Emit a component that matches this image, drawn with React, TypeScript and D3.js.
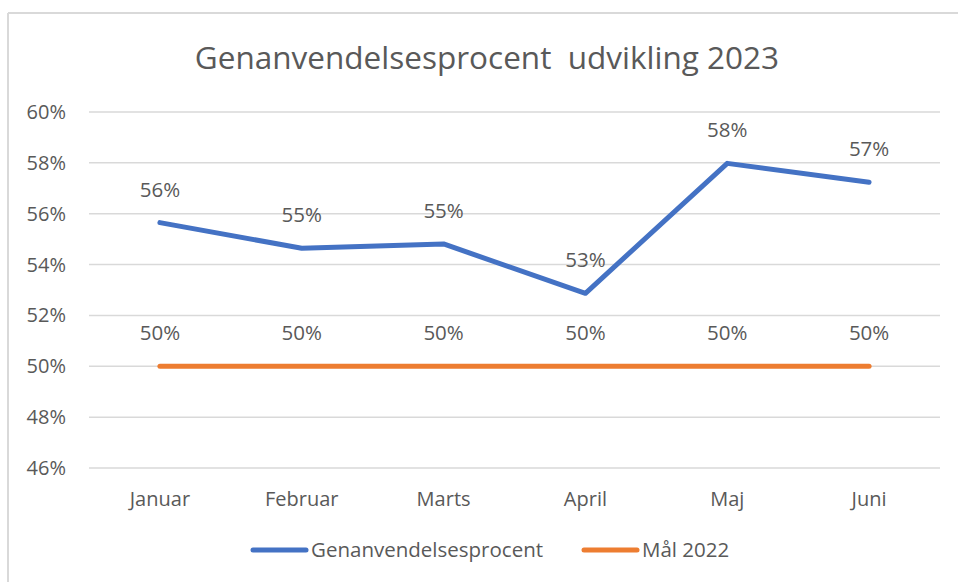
import React from "react";
import * as d3 from "d3";

const months = ["Januar", "Februar", "Marts", "April", "Maj", "Juni"];
const recyclingRate = [55.65, 54.64, 54.81, 52.87, 57.98, 57.24];
const target2022 = [50, 50, 50, 50, 50, 50];
const yTicks = [46, 48, 50, 52, 54, 56, 58, 60];
const title = "Genanvendelsesprocent  udvikling 2023";
const seriesNames = ["Genanvendelsesprocent", "Mål 2022"];
const seriesColors = ["#4472C4", "#ED7D31"];

const W = 958;
const H = 582;
const FONT = "'Open Sans', 'Noto Sans', sans-serif";
const TEXT = "#595959";

export default function App() {
  const x = d3.scaleBand<string>().domain(months).range([89, 940]);
  const y = d3.scaleLinear().domain([46, 60]).range([468, 112]);
  const cx = (m: string) => (x(m) ?? 0) + x.bandwidth() / 2;

  const line = d3
    .line<number>()
    .x((_, i) => cx(months[i]))
    .y((d) => y(d));

  const series = [recyclingRate, target2022];

  return (
    <svg
      width={W}
      height={H}
      style={{ position: "absolute", left: 0, top: 0, background: "#fff" }}
      fontFamily={FONT}
    >
      <rect x={0} y={0} width={W} height={H} fill="#fff" />
      {/* frame */}
      <line x1={8} y1={13} x2={W} y2={13} stroke="#d9d9d9" strokeWidth={2} />
      <line x1={8} y1={13} x2={8} y2={H} stroke="#d9d9d9" strokeWidth={2} />

      <text
        x={487}
        y={69}
        textAnchor="middle"
        fontSize={31.5}
        fill={TEXT}
        style={{ whiteSpace: "pre" }}
        xmlSpace="preserve"
      >
        {title}
      </text>

      {yTicks.map((t) => (
        <g key={t}>
          <line x1={89} x2={940} y1={y(t)} y2={y(t)} stroke="#d9d9d9" strokeWidth={1.5} />
          <text x={66} y={y(t) + 7} textAnchor="end" fontSize={20} fill={TEXT}>
            {t}%
          </text>
        </g>
      ))}

      {months.map((m) => (
        <text key={m} x={cx(m)} y={506} textAnchor="middle" fontSize={20} fill={TEXT}>
          {m}
        </text>
      ))}

      {series.map((s, si) => (
        <g key={si}>
          <path
            d={line(s) ?? ""}
            fill="none"
            stroke={seriesColors[si]}
            strokeWidth={5}
            strokeLinecap="round"
            strokeLinejoin="round"
          />
          {s.map((v, i) => (
            <text
              key={i}
              x={cx(months[i])}
              y={y(v) - 26}
              textAnchor="middle"
              fontSize={20.5}
              fill={TEXT}
            >
              {Math.round(v)}%
            </text>
          ))}
        </g>
      ))}

      {/* legend */}
      <g>
        <line x1={253} x2={306} y1={550} y2={550} stroke={seriesColors[0]} strokeWidth={5} strokeLinecap="round" />
        <text x={311} y={557} fontSize={20.5} fill={TEXT}>
          {seriesNames[0]}
        </text>
        <line x1={584} x2={637} y1={550} y2={550} stroke={seriesColors[1]} strokeWidth={5} strokeLinecap="round" />
        <text x={642} y={557} fontSize={20.5} fill={TEXT}>
          {seriesNames[1]}
        </text>
      </g>
    </svg>
  );
}
